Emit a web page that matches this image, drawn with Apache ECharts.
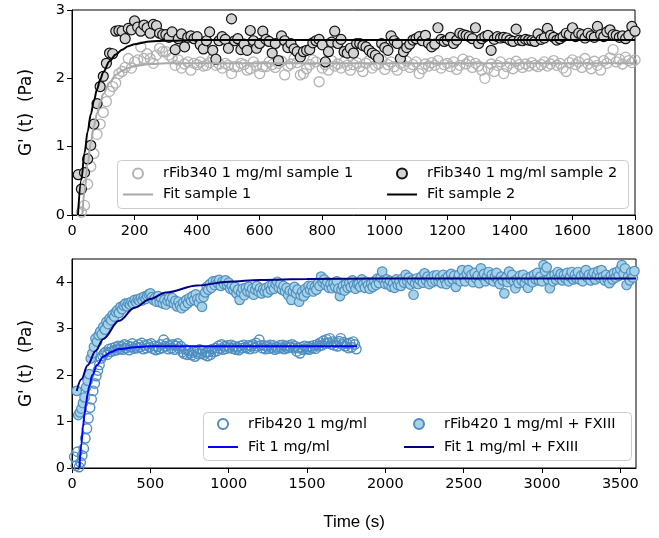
<!DOCTYPE html>
<html><head><meta charset="utf-8">
<script src="https://cdn.jsdelivr.net/npm/echarts@6/dist/echarts.min.js"></script>
<style>html,body{margin:0;padding:0;background:#fff}#c{width:659px;height:538px}</style>
</head><body><div id="c"></div>
<script>
// ---------- tick labels ----------
const topXTicks = [0,200,400,600,800,1000,1200,1400,1600,1800];
const topYTicks = [0,1,2,3];
const botXTicks = [0,500,1000,1500,2000,2500,3000,3500];
const botYTicks = [0,1,2,3,4];

// ---------- top panel: rFib340 ----------
// sampling: first time (s) and interval (s) of the recordings
const s1Start = 30, s1Step = 10;
const s1Values = [0.04,0.14,0.45,0.71,0.90,1.18,1.33,1.50,1.66,1.81,
1.88,1.93,2.07,2.10,2.16,2.29,2.15,2.24,2.27,2.46,
2.29,2.36,2.29,2.22,2.34,2.44,2.39,2.39,2.34,2.30,
2.19,2.27,2.15,2.21,2.24,2.12,2.22,2.20,2.24,2.18,
2.19,2.23,2.29,2.19,2.21,2.15,2.22,2.19,2.07,2.17,
2.17,2.22,2.20,2.12,2.14,2.24,2.18,2.07,2.17,2.17,
2.24,2.20,2.16,2.22,2.25,2.05,2.18,2.21,2.29,2.23,
2.05,2.07,2.14,2.20,2.27,2.24,1.95,2.15,2.20,2.12,
2.26,2.18,2.21,2.15,2.24,2.19,2.12,2.20,2.23,2.17,
2.10,2.22,2.26,2.15,2.19,2.21,2.27,2.13,2.20,2.24,
2.17,2.12,2.22,2.19,2.25,2.16,2.20,2.24,2.07,2.14,
2.21,2.18,2.23,2.19,2.26,2.15,2.20,2.22,2.17,2.24,
2.13,2.19,2.28,2.21,2.25,2.16,2.22,2.18,2.12,2.00,
2.15,2.21,2.10,2.19,2.24,2.07,2.17,2.22,2.14,2.25,
2.20,2.16,2.21,2.18,2.23,2.19,2.17,2.20,2.24,2.18,
2.21,2.26,2.19,2.22,2.15,2.10,2.23,2.27,2.20,2.24,
2.16,2.29,2.21,2.14,2.25,2.19,2.12,2.26,2.22,2.30,
2.42,2.24,2.28,2.21,2.31,2.26,2.23,2.27];

const s2Start = 20, s2Step = 10;
const s2Values = [0.59,0.38,0.62,0.82,1.02,1.33,1.63,1.88,2.03,2.22,
2.37,2.36,2.69,2.70,2.69,2.58,2.73,2.71,2.84,2.75,
2.69,2.78,2.74,2.66,2.79,2.77,2.66,2.64,2.64,2.60,
2.68,2.42,2.58,2.65,2.46,2.60,2.62,2.58,2.61,2.49,
2.43,2.55,2.68,2.41,2.28,2.55,2.61,2.57,2.44,2.87,
2.55,2.58,2.42,2.50,2.41,2.70,2.55,2.44,2.51,2.69,
2.57,2.54,2.37,2.51,2.26,2.62,2.55,2.45,2.51,2.43,
2.39,2.31,2.39,2.41,2.42,2.52,2.55,2.57,2.49,2.24,
2.39,2.53,2.69,2.51,2.57,2.39,2.37,2.44,2.37,2.51,
2.51,2.48,2.46,2.41,2.37,2.34,2.29,2.51,2.45,2.41,
2.62,2.55,2.51,2.29,2.39,2.45,2.50,2.56,2.58,2.61,
2.55,2.63,2.51,2.46,2.50,2.74,2.57,2.54,2.56,2.60,
2.51,2.56,2.66,2.64,2.63,2.61,2.58,2.74,2.51,2.58,
2.61,2.63,2.41,2.57,2.61,2.59,2.60,2.59,2.56,2.54,
2.72,2.56,2.55,2.57,2.56,2.55,2.54,2.65,2.57,2.59,
2.73,2.63,2.60,2.56,2.58,2.61,2.66,2.64,2.74,2.61,
2.66,2.64,2.59,2.66,2.62,2.60,2.76,2.64,2.61,2.68,
2.71,2.64,2.63,2.60,2.62,2.58,2.63,2.76,2.69];

const fit1Times  = [33,40,50,60,70,80,90,100,120,140,160,180,200,250,300,1800];
const fit1Values = [0,0.34,0.74,1.05,1.30,1.49,1.65,1.77,1.94,2.05,2.11,2.15,2.18,2.21,2.22,2.22];
const fit2Times  = [19,30,40,50,60,70,80,90,100,120,140,160,180,200,250,300,400,1800];
const fit2Values = [0,0.52,0.91,1.22,1.47,1.67,1.84,1.98,2.09,2.25,2.35,2.42,2.47,2.50,2.54,2.55,2.56,2.56];

// ---------- bottom panel: rFib420 ----------
const r1Start = 15, r1Step = 10;
const r1Values = [0.24,0.05,0.35,0.02,0.12,0.27,0.42,0.64,0.85,1.07,
1.30,1.48,1.66,1.82,1.98,2.10,2.22,2.36,2.42,2.47,
2.50,2.44,2.56,2.50,2.58,2.52,2.60,2.54,2.63,2.56,
2.62,2.55,2.66,2.58,2.63,2.54,2.61,2.68,2.57,2.62,
2.58,2.66,2.60,2.69,2.56,2.64,2.58,2.66,2.60,2.68,
2.57,2.63,2.54,2.61,2.56,2.66,2.58,2.76,2.62,2.68,
2.56,2.64,2.58,2.66,2.55,2.63,2.68,2.57,2.62,2.50,
2.46,2.55,2.44,2.53,2.47,2.43,2.52,2.40,2.50,2.45,
2.55,2.46,2.52,2.44,2.49,2.41,2.50,2.44,2.56,2.50,
2.58,2.52,2.63,2.57,2.66,2.55,2.62,2.57,2.64,2.59,
2.65,2.57,2.62,2.55,2.60,2.54,2.63,2.58,2.65,2.60,
2.58,2.64,2.56,2.62,2.66,2.58,2.69,2.62,2.76,2.64,
2.58,2.64,2.56,2.62,2.57,2.65,2.59,2.64,2.55,2.60,
2.57,2.64,2.59,2.65,2.56,2.62,2.58,2.64,2.60,2.66,
2.58,2.62,2.51,2.58,2.47,2.60,2.55,2.63,2.56,2.61,
2.55,2.62,2.58,2.64,2.57,2.66,2.62,2.70,2.64,2.74,
2.68,2.77,2.70,2.79,2.66,2.72,2.64,2.70,2.62,2.73,
2.79,2.66,2.71,2.62,2.68,2.58,2.69,2.60,2.72,2.66,
2.56];

const fxStart = 30, fxStep = 10;
const fxValues = [1.66,1.14,1.20,1.28,1.40,1.52,1.74,1.88,2.02,2.36,
2.47,2.61,2.79,2.72,2.86,2.94,2.88,3.04,2.98,3.15,
3.10,3.22,3.18,3.30,3.26,3.36,3.40,3.34,3.47,3.42,
3.50,3.54,3.48,3.55,3.52,3.58,3.54,3.62,3.57,3.63,
3.60,3.66,3.61,3.69,3.64,3.70,3.74,3.76,3.68,3.62,
3.66,3.58,3.70,3.57,3.65,3.54,3.62,3.52,3.60,3.66,
3.58,3.66,3.54,3.60,3.48,3.58,3.50,3.44,3.56,3.49,
3.62,3.55,3.66,3.60,3.70,3.62,3.74,3.64,3.56,3.66,
3.47,3.68,3.78,3.90,3.84,3.96,3.88,4.02,3.94,4.03,
3.98,4.05,3.92,4.01,3.96,4.04,3.94,3.99,3.86,3.92,
3.83,3.90,3.76,3.84,3.62,3.78,3.86,3.72,3.88,3.80,
3.90,3.78,3.86,3.73,3.84,3.92,3.80,3.87,3.76,3.85,
3.80,3.88,3.78,3.92,3.84,3.94,3.86,3.96,4.01,3.88,
3.96,3.84,3.92,3.80,3.88,3.72,3.82,3.62,3.80,3.90,
3.76,3.84,3.58,3.72,3.80,3.70,3.86,3.78,3.92,3.84,
3.92,3.80,3.90,3.84,3.98,3.92,4.12,4.00,4.06,3.94,
4.00,3.88,3.96,3.87,3.98,3.90,4.02,3.86,3.70,3.84,
3.92,3.82,3.96,3.88,3.98,3.90,4.04,3.94,3.86,3.96,
3.97,3.90,4.06,3.96,3.88,4.01,3.94,3.86,3.97,3.90,
4.02,3.94,4.08,3.98,4.10,4.23,4.04,3.96,4.06,3.95,
4.03,3.90,3.98,3.88,4.06,3.94,4.02,3.92,4.08,3.99,
4.16,4.02,4.10,3.95,4.04,3.73,3.98,4.08,3.96,4.05,
4.12,3.99,4.19,4.04,4.12,3.96,4.08,4.00,4.14,4.03,
4.15,4.02,4.10,3.98,4.16,4.06,3.96,4.12,4.02,4.18,
4.06,4.14,3.90,4.06,4.16,4.02,4.26,4.10,4.02,4.18,
4.26,4.08,4.16,4.00,4.20,4.08,4.14,3.98,4.30,4.12,
4.18,4.02,4.12,4.22,4.06,4.16,4.02,4.12,4.20,4.04,
3.96,4.12,4.04,3.76,4.10,4.00,4.23,4.08,4.16,4.02,
3.87,4.06,3.98,4.14,4.04,4.16,3.98,4.08,3.88,4.04,
4.12,4.00,4.16,4.06,4.20,4.04,4.12,4.02,4.37,4.24,
4.32,4.06,3.87,4.12,4.02,4.16,4.06,4.22,4.10,4.18,
4.04,4.16,4.08,4.20,4.02,4.12,4.22,4.06,4.16,4.08,
4.22,4.06,4.14,4.02,4.18,4.26,4.10,4.16,4.04,4.14,
4.20,4.06,4.16,4.24,4.10,4.26,4.12,4.04,4.16,4.06,
3.98,4.14,4.06,4.20,4.10,4.22,4.14,4.28,4.37,4.18,
4.30,3.94,4.12,4.04,4.22,4.10,4.24];

const fitR1Times  = [47,60,70,80,90,100,110,130,160,200,250,300,400,500,1820];
const fitR1Values = [0,0.52,0.88,1.16,1.40,1.60,1.76,2.00,2.22,2.40,2.50,2.56,2.60,2.62,2.62];
const fitFxTimes  = [30,60,100,150,200,300,400,500,600,800,1000,1200,1500,2000,3600];
const fitFxValues = [1.66,1.91,2.21,2.52,2.78,3.17,3.45,3.64,3.78,3.93,4.01,4.05,4.07,4.08,4.08];

// ---------- build ----------
const sampled = (start, step, vals) => vals.map((v, i) => [start + i * step, v]);
const paired = (ts, vs) => ts.map((t, i) => [t, vs[i]]);

const FONT = 'DejaVu Sans';
const tickLbl = {fontFamily: FONT, fontSize: 14.5, color: '#000', formatter: v => String(v)};
const axLine = {show: true, lineStyle: {color: '#000', width: 1}};
const axTick = {show: true, length: 5, inside: false, lineStyle: {color: '#000', width: 1}};
const yName = "G' (t)  (Pa)";
const LINE_ICON = 'path://M0,0 L30,0 L30,2 L0,2 Z';

function xAx(grid, max, ticks, name) {
  return {
    gridIndex: grid, type: 'value', min: 0, max: max,
    axisLine: axLine,
    axisTick: Object.assign({}, axTick, {customValues: ticks}),
    axisLabel: Object.assign({}, tickLbl, {customValues: ticks, margin: 9}),
    splitLine: {show: false},
    name: name || '', nameLocation: 'middle', nameGap: 46,
    nameTextStyle: {fontFamily: 'Liberation Sans', fontSize: 17, color: '#000', verticalAlign: 'top'}
  };
}
function yAx(grid, max, ticks) {
  return {
    gridIndex: grid, type: 'value', min: 0, max: max,
    axisLine: axLine,
    axisTick: Object.assign({}, axTick, {customValues: ticks}),
    axisLabel: Object.assign({}, tickLbl, {customValues: ticks, margin: 7}),
    splitLine: {show: false},
    name: yName, nameLocation: 'middle', nameRotate: 90, nameGap: 37,
    nameTextStyle: {fontFamily: FONT, fontSize: 17, color: '#000'}
  };
}

function scatter(name, xi, data, fill, edge, size, bw) {
  return {
    name: name, type: 'scatter', xAxisIndex: xi, yAxisIndex: xi, data: data,
    symbol: 'circle', symbolSize: size, silent: true,
    itemStyle: {color: fill, borderColor: edge, borderWidth: bw, opacity: 1}
  };
}
function fitLine(name, xi, data, color) {
  return {
    name: name, type: 'line', xAxisIndex: xi, yAxisIndex: xi, data: data,
    symbol: 'none', smooth: 0.35, smoothMonotone: 'x', silent: true,
    lineStyle: {color: color, width: 2}, itemStyle: {color: color}
  };
}

const legendBase = {
  orient: 'vertical', padding: 0, itemWidth: 30, itemHeight: 10,
  selectedMode: false, z: 20, symbolKeepAspect: true,
  textStyle: {fontFamily: FONT, fontSize: 14.5, color: '#000', lineHeight: 18, padding: [0, 0, 0, 5]}
};
const lineItem = name => ({name: name, icon: LINE_ICON});

const option = {
  animation: false,
  backgroundColor: '#fff',
  grid: [
    {left: 72, top: 10, width: 563, height: 205, show: true, borderColor: '#000', borderWidth: 1, backgroundColor: 'transparent', containLabel: false, outerBoundsMode: 'none'},
    {left: 72, top: 259, width: 564, height: 209, show: true, borderColor: '#000', borderWidth: 1, backgroundColor: 'transparent', containLabel: false, outerBoundsMode: 'none'}
  ],
  xAxis: [xAx(0, 1800, topXTicks), xAx(1, 3600, botXTicks, 'Time (s)')],
  yAxis: [yAx(0, 3, topYTicks), yAx(1, 4.5, botYTicks)],
  graphic: [
    {type: 'rect', z: 15, shape: {x: 117.5, y: 160.5, width: 511, height: 48, r: 4},
     style: {fill: 'rgba(255,255,255,0.85)', stroke: '#cccccc', lineWidth: 1}},
    {type: 'rect', z: 15, shape: {x: 203.5, y: 412.5, width: 428, height: 48, r: 4},
     style: {fill: 'rgba(255,255,255,0.85)', stroke: '#cccccc', lineWidth: 1}}
  ],
  legend: [
    Object.assign({}, legendBase, {left: 123, top: 164.5, itemGap: 3, data: ['rFib340 1 mg/ml sample 1', lineItem('Fit sample 1')]}),
    Object.assign({}, legendBase, {left: 387, top: 164.5, itemGap: 3, data: ['rFib340 1 mg/ml sample 2', lineItem('Fit sample 2')]}),
    Object.assign({}, legendBase, {left: 208, top: 415, itemGap: 5, data: ['rFib420 1 mg/ml', lineItem('Fit 1 mg/ml')]}),
    Object.assign({}, legendBase, {left: 404, top: 415, itemGap: 5, data: ['rFib420 1 mg/ml + FXIII', lineItem('Fit 1 mg/ml + FXIII')]})
  ],
  series: [
    scatter('rFib340 1 mg/ml sample 1', 0, sampled(s1Start, s1Step, s1Values), 'rgba(255,255,255,0)', '#b3b3b3', 10, 1.3),
    scatter('rFib340 1 mg/ml sample 2', 0, sampled(s2Start, s2Step, s2Values), '#d3d3d3', '#111111', 10, 1.2),
    fitLine('Fit sample 1', 0, paired(fit1Times, fit1Values), '#a9a9a9'),
    fitLine('Fit sample 2', 0, paired(fit2Times, fit2Values), '#000000'),
    scatter('rFib420 1 mg/ml', 1, sampled(r1Start, r1Step, r1Values), 'rgba(255,255,255,0)', '#4f8ec1', 9.5, 1.4),
    scatter('rFib420 1 mg/ml + FXIII', 1, sampled(fxStart, fxStep, fxValues), '#a6d2e5', '#4f8ec1', 9.5, 1.2),
    fitLine('Fit 1 mg/ml', 1, paired(fitR1Times, fitR1Values), '#0000ff'),
    fitLine('Fit 1 mg/ml + FXIII', 1, paired(fitFxTimes, fitFxValues), '#000080')
  ]
};

const chart = echarts.init(document.getElementById('c'), null, {renderer: 'canvas'});
chart.setOption(option);
</script>
</body></html>
